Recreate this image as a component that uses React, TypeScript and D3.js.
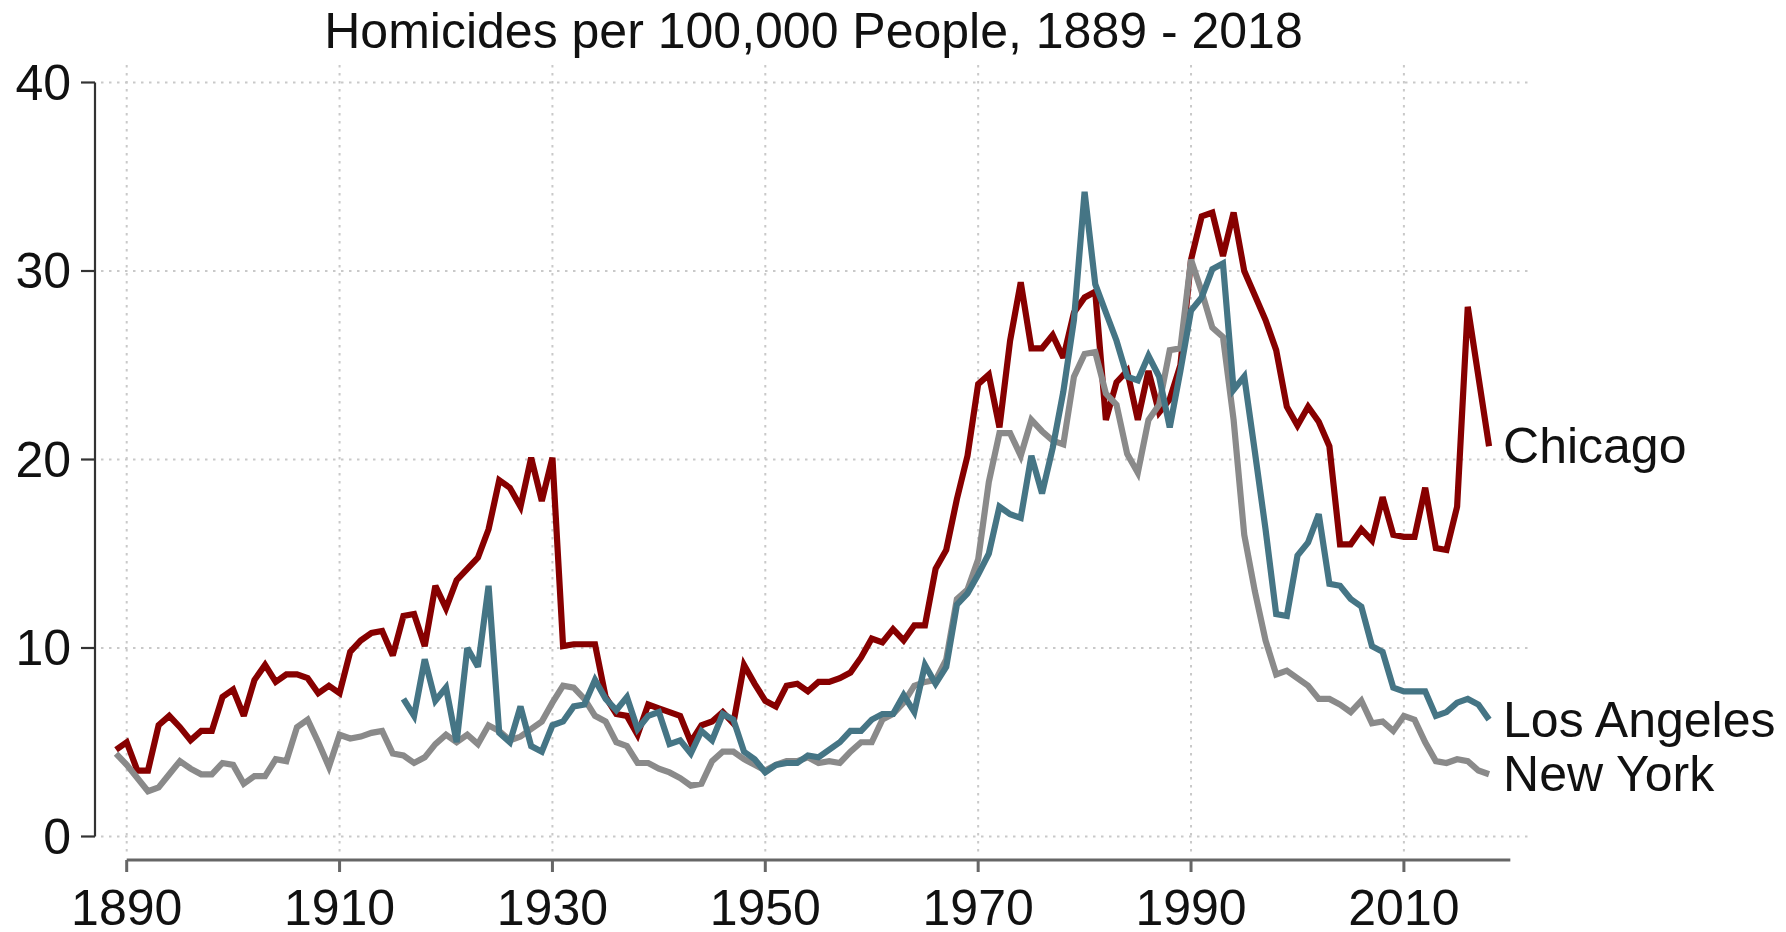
import React from "react";
import * as d3 from "d3";

const startYear = 1889;
const laStartYear = 1916;

const chicago = [
  4.6, 5.0, 3.5, 3.5, 5.9, 6.4, 5.8, 5.1, 5.6, 5.6, 7.4, 7.8, 6.4, 8.3, 9.1, 8.2, 8.6, 8.6, 8.4, 7.6,
  8.0, 7.6, 9.8, 10.4, 10.8, 10.9, 9.6, 11.7, 11.8, 10.1, 13.3, 12.1, 13.6, 14.2, 14.8, 16.3, 18.9, 18.5, 17.5, 20.1,
  17.8, 20.1, 10.1, 10.2, 10.2, 10.2, 7.4, 6.5, 6.4, 5.4, 7.0, 6.8, 6.6, 6.4, 5.0, 5.9, 6.1, 6.6, 6.0, 9.1,
  8.1, 7.2, 6.9, 8.0, 8.1, 7.7, 8.2, 8.2, 8.4, 8.7, 9.5, 10.5, 10.3, 11.0, 10.4, 11.2, 11.2, 14.2, 15.2, 17.9,
  20.2, 24.0, 24.5, 21.7, 26.3, 29.4, 25.9, 25.9, 26.6, 25.4, 27.8, 28.6, 28.9, 22.1, 24.1, 24.7, 22.1, 24.7, 22.5, 23.2,
  25.0, 30.6, 32.9, 33.1, 30.8, 33.1, 30.0, 28.7, 27.4, 25.8, 22.8, 21.8, 22.8, 22.0, 20.7, 15.5, 15.5, 16.3, 15.7, 18.0,
  16.0, 15.9, 15.9, 18.5, 15.3, 15.2, 17.5, 28.1, 24.4, 20.7,
];

const newYork = [
  4.4, 3.8, 3.1, 2.4, 2.6, 3.3, 4.0, 3.6, 3.3, 3.3, 3.9, 3.8, 2.8, 3.2, 3.2, 4.1, 4.0, 5.8, 6.2, 5.0,
  3.7, 5.4, 5.2, 5.3, 5.5, 5.6, 4.4, 4.3, 3.9, 4.2, 4.9, 5.4, 5.0, 5.4, 4.9, 5.9, 5.6, 5.1, 5.3, 5.7,
  6.1, 7.1, 8.0, 7.9, 7.3, 6.4, 6.1, 5.0, 4.8, 3.9, 3.9, 3.6, 3.4, 3.1, 2.7, 2.8, 4.0, 4.5, 4.5, 4.1,
  3.8, 3.5, 3.8, 4.0, 4.0, 4.2, 3.9, 4.0, 3.9, 4.5, 5.0, 5.0, 6.2, 6.5, 7.1, 8.0, 8.2, 8.3, 9.4, 12.6,
  13.1, 14.7, 18.8, 21.4, 21.4, 20.2, 22.1, 21.5, 21.0, 20.8, 24.4, 25.6, 25.7, 23.5, 22.9, 20.3, 19.3, 22.1, 22.9, 25.8,
  25.9, 30.6, 28.9, 27.0, 26.5, 22.1, 16.0, 13.0, 10.4, 8.6, 8.8, 8.4, 8.0, 7.3, 7.3, 7.0, 6.6, 7.2, 6.0, 6.1,
  5.6, 6.4, 6.2, 5.0, 4.0, 3.9, 4.1, 4.0, 3.5, 3.3,
];

const losAngeles = [
  7.3, 6.4, 9.4, 7.2, 7.9, 5.0, 10.0, 9.0, 13.3, 5.5, 5.0, 6.9, 4.8, 4.5, 5.9, 6.1, 6.9, 7.0, 8.3, 7.3,
  6.7, 7.4, 5.7, 6.4, 6.6, 4.9, 5.1, 4.4, 5.6, 5.1, 6.5, 6.2, 4.5, 4.1, 3.4, 3.8, 3.9, 3.9, 4.3, 4.2,
  4.6, 5.0, 5.6, 5.6, 6.2, 6.5, 6.5, 7.5, 6.6, 9.1, 8.1, 9.0, 12.3, 12.9, 13.9, 15.0, 17.5, 17.1, 16.9, 20.2,
  18.2, 20.6, 23.6, 27.4, 34.2, 29.3, 27.8, 26.3, 24.4, 24.2, 25.5, 24.4, 21.7, 24.7, 27.9, 28.6, 30.1, 30.4, 23.7, 24.4,
  20.4, 16.3, 11.8, 11.7, 14.9, 15.6, 17.1, 13.4, 13.3, 12.6, 12.2, 10.1, 9.8, 7.9, 7.7, 7.7, 7.7, 6.4, 6.6, 7.1,
  7.3, 7.0, 6.2,
];

const xTicks = [1890, 1910, 1930, 1950, 1970, 1990, 2010];
const yTicks = [0, 10, 20, 30, 40];
const titleText = "Homicides per 100,000 People, 1889 - 2018";

const seriesDefs = [
  { name: "Chicago", start: startYear, values: chicago, color: "#870000" },
  { name: "New York", start: startYear, values: newYork, color: "#8a8a8a" },
  { name: "Los Angeles", start: laStartYear, values: losAngeles, color: "#457585" },
];

const W = 1786;
const H = 932;
const FONT = "'Liberation Sans', Arial, Helvetica, sans-serif";

export default function App() {
  const x = d3.scaleLinear().domain([1890, 2010]).range([126.7, 1403.9]);
  const y = d3.scaleLinear().domain([0, 40]).range([836.5, 82.5]);

  const line = d3
    .line<[number, number]>()
    .x((d) => x(d[0]))
    .y((d) => y(d[1]))
    .curve(d3.curveLinear);

  const series = seriesDefs.map((s) => ({
    ...s,
    pts: s.values.map((v, i) => [s.start + i, v] as [number, number]),
  }));

  const gridLeft = 101;
  const gridRight = 1533;
  const gridTop = 65;
  const gridBottom = 853;
  const xAxisY = 860;
  const yAxisX = 95;
  const fs = 50;

  return (
    <svg
      width={W}
      height={H}
      viewBox={`0 0 ${W} ${H}`}
      style={{ position: "absolute", left: 0, top: 0, display: "block", background: "#fff" }}
    >
      <rect x={0} y={0} width={W} height={H} fill="#fff" />
      {/* grid */}
      <g stroke="#c9c9c9" strokeWidth={2} strokeDasharray="2.5 5.5">
        {yTicks.map((t) => (
          <line key={"gy" + t} x1={gridLeft} x2={gridRight} y1={y(t)} y2={y(t)} />
        ))}
        {xTicks.map((t) => (
          <line key={"gx" + t} x1={x(t)} x2={x(t)} y1={gridTop} y2={gridBottom} />
        ))}
      </g>

      {/* y axis */}
      <line x1={yAxisX} x2={yAxisX} y1={y(0)} y2={y(40)} stroke="#333" strokeWidth={2.2} />
      {yTicks.map((t) => (
        <g key={"yt" + t}>
          <line x1={yAxisX - 14} x2={yAxisX} y1={y(t)} y2={y(t)} stroke="#333" strokeWidth={2.2} />
          <text
            x={71}
            y={y(t)}
            textAnchor="end"
            dominantBaseline="central"
            fontFamily={FONT}
            fontSize={fs}
            fill="#111"
          >
            {t}
          </text>
        </g>
      ))}

      {/* x axis */}
      <line x1={x(1890)} x2={x(2020)} y1={xAxisY} y2={xAxisY} stroke="#666" strokeWidth={3} />
      {xTicks.map((t) => (
        <g key={"xt" + t}>
          <line x1={x(t)} x2={x(t)} y1={xAxisY} y2={xAxisY + 12} stroke="#666" strokeWidth={3} />
          <text
            x={x(t)}
            y={925}
            textAnchor="middle"
            fontFamily={FONT}
            fontSize={fs}
            fill="#111"
          >
            {t}
          </text>
        </g>
      ))}

      {/* series */}
      {series.map((s) => (
        <path
          key={s.name}
          d={line(s.pts) || ""}
          fill="none"
          stroke={s.color}
          strokeWidth={6.2}
          strokeLinejoin="miter"
          strokeMiterlimit={3}
        />
      ))}

      {/* end labels */}
      {series.map((s) => {
        const last = s.pts[s.pts.length - 1];
        return (
          <text
            key={"lbl" + s.name}
            x={x(last[0]) + 14}
            y={y(last[1])}
            dominantBaseline="central"
            fontFamily={FONT}
            fontSize={fs}
            fill="#111"
          >
            {s.name}
          </text>
        );
      })}

      {/* title */}
      <text
        x={813.5}
        y={48}
        textAnchor="middle"
        fontFamily={FONT}
        fontSize={fs}
        fill="#111"
      >
        {titleText}
      </text>
    </svg>
  );
}
